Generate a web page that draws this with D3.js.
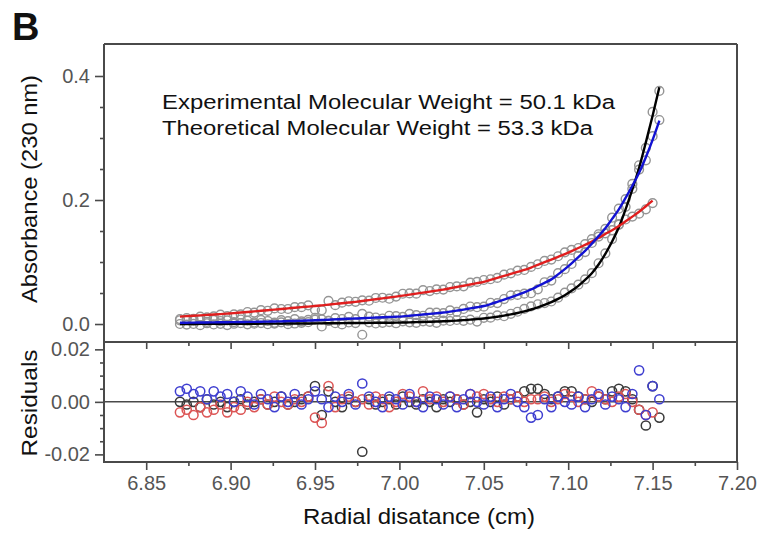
<!DOCTYPE html>
<html>
<head>
<meta charset="utf-8">
<script src="https://cdn.jsdelivr.net/npm/d3@7"></script>
<style>
  html, body { margin: 0; padding: 0; background: #fff; }
  svg { display: block; font-family: "Liberation Sans", Arial, sans-serif; }
</style>
</head>
<body>
<svg id="chart" width="761" height="533"></svg>
<script>
// ---------------- data ----------------
const radius = [6.870, 6.874, 6.878, 6.882, 6.886, 6.890, 6.894, 6.898, 6.902, 6.906,
  6.910, 6.914, 6.918, 6.922, 6.926, 6.930, 6.934, 6.938, 6.942, 6.946,
  6.950, 6.954, 6.958, 6.962, 6.966, 6.970, 6.974, 6.978, 6.982, 6.986,
  6.990, 6.994, 6.998, 7.002, 7.006, 7.010, 7.014, 7.018, 7.022, 7.026,
  7.030, 7.034, 7.038, 7.042, 7.046, 7.050, 7.054, 7.058, 7.062, 7.066,
  7.070, 7.074, 7.078, 7.082, 7.086, 7.090, 7.094, 7.098, 7.102, 7.106,
  7.110, 7.114, 7.118, 7.122, 7.126, 7.130, 7.134, 7.138, 7.142, 7.146,
  7.150, 7.154];

// fitted absorbance (230 nm) for each run
const fitBlack = [0.0000, 0.0001, 0.0001, 0.0002, 0.0002, 0.0003, 0.0003, 0.0003, 0.0004, 0.0004,
  0.0005, 0.0005, 0.0006, 0.0006, 0.0007, 0.0007, 0.0008, 0.0008, 0.0009, 0.0009,
  0.0010, 0.0011, 0.0012, 0.0013, 0.0014, 0.0015, 0.0016, 0.0017, 0.0018, 0.0019,
  0.0020, 0.0021, 0.0022, 0.0024, 0.0027, 0.0030, 0.0033, 0.0036, 0.0040, 0.0044,
  0.0049, 0.0055, 0.0062, 0.0070, 0.0079, 0.0090, 0.0103, 0.0118, 0.0135, 0.0155,
  0.0178, 0.0204, 0.0234, 0.0268, 0.0308, 0.0353, 0.0405, 0.0465, 0.0535, 0.0615,
  0.0710, 0.0820, 0.0960, 0.1130, 0.1330, 0.1560, 0.1850, 0.2170, 0.2520, 0.2930,
  0.3360, 0.3820];
const fitBlue = [0.0020, 0.0021, 0.0023, 0.0024, 0.0025, 0.0027, 0.0028, 0.0029, 0.0031, 0.0032,
  0.0034, 0.0035, 0.0037, 0.0039, 0.0041, 0.0043, 0.0046, 0.0049, 0.0052, 0.0056,
  0.0060, 0.0065, 0.0070, 0.0075, 0.0080, 0.0085, 0.0089, 0.0094, 0.0099, 0.0104,
  0.0108, 0.0113, 0.0118, 0.0124, 0.0133, 0.0143, 0.0153, 0.0163, 0.0174, 0.0185,
  0.0200, 0.0216, 0.0233, 0.0252, 0.0271, 0.0290, 0.0322, 0.0357, 0.0393, 0.0431,
  0.0470, 0.0510, 0.0557, 0.0610, 0.0664, 0.0720, 0.0800, 0.0885, 0.0978, 0.1078,
  0.1180, 0.1297, 0.1418, 0.1545, 0.1695, 0.1850, 0.2035, 0.2230, 0.2440, 0.2690,
  0.2970, 0.3280];
const fitRed = [0.0120, 0.0127, 0.0133, 0.0140, 0.0147, 0.0153, 0.0160, 0.0167, 0.0175, 0.0185,
  0.0194, 0.0204, 0.0213, 0.0223, 0.0232, 0.0242, 0.0252, 0.0262, 0.0272, 0.0281,
  0.0290, 0.0301, 0.0312, 0.0324, 0.0335, 0.0346, 0.0358, 0.0372, 0.0386, 0.0400,
  0.0414, 0.0428, 0.0442, 0.0458, 0.0474, 0.0490, 0.0506, 0.0522, 0.0538, 0.0555,
  0.0576, 0.0597, 0.0618, 0.0638, 0.0659, 0.0680, 0.0712, 0.0744, 0.0776, 0.0808,
  0.0840, 0.0872, 0.0911, 0.0954, 0.0997, 0.1040, 0.1083, 0.1126, 0.1175, 0.1226,
  0.1277, 0.1328, 0.1390, 0.1452, 0.1513, 0.1580, 0.1656, 0.1732, 0.1810, 0.1900,
  0.1990];

// residuals (observed - fit)
const resBlack = [0.000, -0.001, 0.000, -0.002, 0.001, -0.001, 0.000, -0.002, 0.000, 0.001,
  -0.001, 0.000, 0.001, -0.001, 0.000, 0.002, -0.001, 0.000, 0.001, 0.002,
  0.006, -0.005, 0.004, 0.000, -0.002, 0.001, 0.000, -0.019, 0.001, -0.001,
  0.000, 0.001, -0.001, 0.002, 0.000, -0.001, 0.001, 0.000, -0.002, 0.001,
  0.000, 0.001, -0.001, 0.000, -0.004, 0.001, 0.000, 0.002, -0.001, 0.001,
  0.002, 0.004, 0.005, 0.005, 0.003, 0.001, 0.002, 0.004, 0.004, 0.002,
  0.001, 0.000, 0.002, 0.001, 0.004, 0.005, 0.004, 0.001, -0.003, -0.009,
  0.006, -0.006];
const resBlue = [0.004, 0.005, 0.003, 0.004, 0.001, 0.004, 0.002, 0.003, 0.000, 0.004,
  0.002, -0.001, 0.003, 0.001, -0.002, 0.002, 0.000, 0.003, -0.001, 0.001,
  0.004, 0.001, -0.002, 0.002, 0.000, 0.003, -0.001, 0.007, 0.002, 0.000,
  -0.002, 0.002, 0.001, -0.001, 0.003, 0.000, -0.002, 0.002, 0.001, -0.001,
  0.002, -0.002, 0.001, 0.003, 0.000, -0.001, 0.002, -0.002, 0.001, 0.003,
  0.000, -0.002, -0.006, -0.005, 0.001, -0.002, 0.002, 0.000, -0.001, 0.002,
  -0.002, 0.001, 0.003, -0.001, 0.002, 0.001, -0.002, 0.003, 0.012, -0.005,
  0.006, 0.001];
const resRed = [-0.004, -0.003, -0.005, -0.002, -0.004, -0.003, -0.001, -0.004, -0.002, -0.003,
  0.000, -0.002, 0.001, -0.001, 0.002, 0.000, -0.001, 0.001, 0.000, 0.002,
  -0.006, -0.008, 0.006, -0.002, 0.001, 0.002, 0.000, 0.001, -0.001, 0.002,
  0.001, -0.002, 0.000, 0.003, 0.002, 0.000, 0.004, 0.001, 0.002, 0.000,
  0.002, 0.001, -0.001, 0.003, 0.002, 0.003, 0.001, 0.000, 0.002, 0.001,
  0.002, 0.000, 0.001, 0.001, 0.002, 0.000, 0.001, 0.003, 0.002, 0.000,
  0.001, 0.004, 0.002, 0.001, 0.000, 0.002, 0.003, 0.000, -0.003, -0.005,
  -0.004];

const xTickValues = [6.85, 6.90, 6.95, 7.00, 7.05, 7.10, 7.15, 7.20];
const xTickLabels = ["6.85", "6.90", "6.95", "7.00", "7.05", "7.10", "7.15", "7.20"];
const xMinorTicks = [6.875, 6.925, 6.975, 7.025, 7.075, 7.125, 7.175];
const absTickValues = [0.0, 0.2, 0.4];
const absTickLabels = ["0.0", "0.2", "0.4"];
const absMinorTicks = [0.05, 0.10, 0.15, 0.25, 0.30, 0.35];
const resTickValues = [-0.02, 0.00, 0.02];
const resTickLabels = ["-0.02", "0.00", "0.02"];
const resMinorTicks = [-0.015, -0.010, -0.005, 0.005, 0.010, 0.015];

const panelLabel = "B";
const annotation = ["Experimental Molecular Weight = 50.1 kDa",
                    "Theoretical Molecular Weight = 53.3 kDa"];
const xTitle = "Radial disatance (cm)";
const yTitleTop = "Absorbance (230 nm)";
const yTitleRes = "Residuals";

// ---------------- layout ----------------
const L = 104, R = 737, T = 44, MID = 342, B = 462;
const axisColor = "#4a4a4a", tickTextColor = "#555";
const svg = d3.select("#chart");

const x = d3.scaleLinear().domain([6.825, 7.20]).range([L, R]);
const yAbs = d3.scaleLinear().domain([-0.029, 0.4516]).range([MID, T]);
const yRes = d3.scaleLinear().domain([-0.0229, 0.0228]).range([B, MID]);

const series = [
  { fit: fitBlack, res: resBlack, line: "#000000", dot: "#3a3a3a" },
  { fit: fitRed,   res: resRed,   line: "#e01e1e", dot: "#dc5454" },
  { fit: fitBlue,  res: resBlue,  line: "#1212d2", dot: "#3e3ed0" }
];

// ---------------- top panel: data circles & fits ----------------
const gTop = svg.append("g");
series.forEach(s => {
  const pts = s.fit.map((v, i) => ({ r: radius[i], obs: v + s.res[i] }));
  gTop.append("g").selectAll("circle").data(pts).join("circle")
    .attr("cx", d => x(d.r)).attr("cy", d => yAbs(d.obs)).attr("r", 4.4)
    .attr("fill", "none").attr("stroke", "#959595").attr("stroke-width", 1.4);
});
series.forEach(s => {
  const pts = s.fit.map((v, i) => ({ r: radius[i], v }));
  gTop.append("path").datum(pts)
    .attr("d", d3.line().x(d => x(d.r)).y(d => yAbs(d.v)).curve(d3.curveMonotoneX))
    .attr("fill", "none").attr("stroke", s.line).attr("stroke-width", 2.4);
});

// ---------------- residual panel ----------------
svg.append("line").attr("x1", L).attr("x2", R).attr("y1", yRes(0)).attr("y2", yRes(0))
  .attr("stroke", axisColor).attr("stroke-width", 1.5);
const gRes = svg.append("g");
series.forEach(s => {
  const pts = s.res.map((v, i) => ({ r: radius[i], v }));
  gRes.append("g").selectAll("circle").data(pts).join("circle")
    .attr("cx", d => x(d.r)).attr("cy", d => yRes(d.v)).attr("r", 4.6)
    .attr("fill", "none").attr("stroke", s.dot).attr("stroke-width", 1.5);
});

// ---------------- axes ----------------
function styleAxis(g) {
  g.select(".domain").remove();
  g.selectAll(".tick line").attr("stroke", axisColor).attr("stroke-width", 1.6);
  g.selectAll(".tick text").attr("fill", tickTextColor)
    .style("font-size", "20px").style("font-family", "'Liberation Sans', Arial, sans-serif");
}
svg.append("g").attr("transform", `translate(${L},0)`)
  .call(d3.axisLeft(yAbs).tickValues(absTickValues).tickFormat((d, i) => absTickLabels[i]).tickSize(9).tickPadding(5))
  .call(styleAxis);
svg.append("g").attr("transform", `translate(${L},0)`)
  .call(d3.axisLeft(yAbs).tickValues(absMinorTicks).tickFormat("").tickSize(4))
  .call(styleAxis);
svg.append("g").attr("transform", `translate(${L},0)`)
  .call(d3.axisLeft(yRes).tickValues(resTickValues).tickFormat((d, i) => resTickLabels[i]).tickSize(9).tickPadding(5))
  .call(styleAxis);
svg.append("g").attr("transform", `translate(${L},0)`)
  .call(d3.axisLeft(yRes).tickValues(resMinorTicks).tickFormat("").tickSize(4))
  .call(styleAxis);
svg.append("g").attr("transform", `translate(0,${MID})`)
  .call(d3.axisBottom(x).tickValues(xTickValues.slice(0, -1)).tickFormat("").tickSize(7))
  .call(styleAxis);
svg.append("g").attr("transform", `translate(0,${MID})`)
  .call(d3.axisBottom(x).tickValues(xMinorTicks).tickFormat("").tickSize(4))
  .call(styleAxis);
svg.append("g").attr("transform", `translate(0,${B})`)
  .call(d3.axisBottom(x).tickValues(xTickValues).tickFormat((d, i) => xTickLabels[i]).tickSize(8).tickPadding(6))
  .call(styleAxis);
svg.append("g").attr("transform", `translate(0,${B})`)
  .call(d3.axisBottom(x).tickValues(xMinorTicks).tickFormat("").tickSize(4))
  .call(styleAxis);

const frame = svg.append("g").attr("stroke", axisColor).attr("stroke-width", 2).attr("fill", "none");
frame.append("line").attr("x1", L).attr("x2", L).attr("y1", T).attr("y2", B + 1);
frame.append("line").attr("x1", R).attr("x2", R).attr("y1", T).attr("y2", B + 1);
frame.append("line").attr("x1", L).attr("x2", R).attr("y1", T).attr("y2", T);
frame.append("line").attr("x1", L).attr("x2", R).attr("y1", MID).attr("y2", MID);
frame.append("line").attr("x1", L).attr("x2", R).attr("y1", B).attr("y2", B);

// ---------------- texts ----------------
svg.append("text").attr("x", 12).attr("y", 40).text(panelLabel)
  .attr("font-size", 38).attr("font-weight", "bold").attr("fill", "#111");

svg.append("text").attr("x", 162).attr("y", 109).text(annotation[0])
  .attr("font-size", 19.5).attr("fill", "#111")
  .attr("textLength", 453).attr("lengthAdjust", "spacingAndGlyphs");
svg.append("text").attr("x", 162).attr("y", 135).text(annotation[1])
  .attr("font-size", 19.5).attr("fill", "#111")
  .attr("textLength", 431).attr("lengthAdjust", "spacingAndGlyphs");

svg.append("text").attr("x", 419).attr("y", 524).attr("text-anchor", "middle").text(xTitle)
  .attr("font-size", 22).attr("fill", "#111")
  .attr("textLength", 232).attr("lengthAdjust", "spacingAndGlyphs");

svg.append("text").attr("transform", "translate(37,189) rotate(-90)").attr("text-anchor", "middle")
  .text(yTitleTop).attr("font-size", 22).attr("fill", "#111")
  .attr("textLength", 228).attr("lengthAdjust", "spacingAndGlyphs");
svg.append("text").attr("transform", "translate(37,403) rotate(-90)").attr("text-anchor", "middle")
  .text(yTitleRes).attr("font-size", 22).attr("fill", "#111")
  .attr("textLength", 107).attr("lengthAdjust", "spacingAndGlyphs");
</script>
</body>
</html>
